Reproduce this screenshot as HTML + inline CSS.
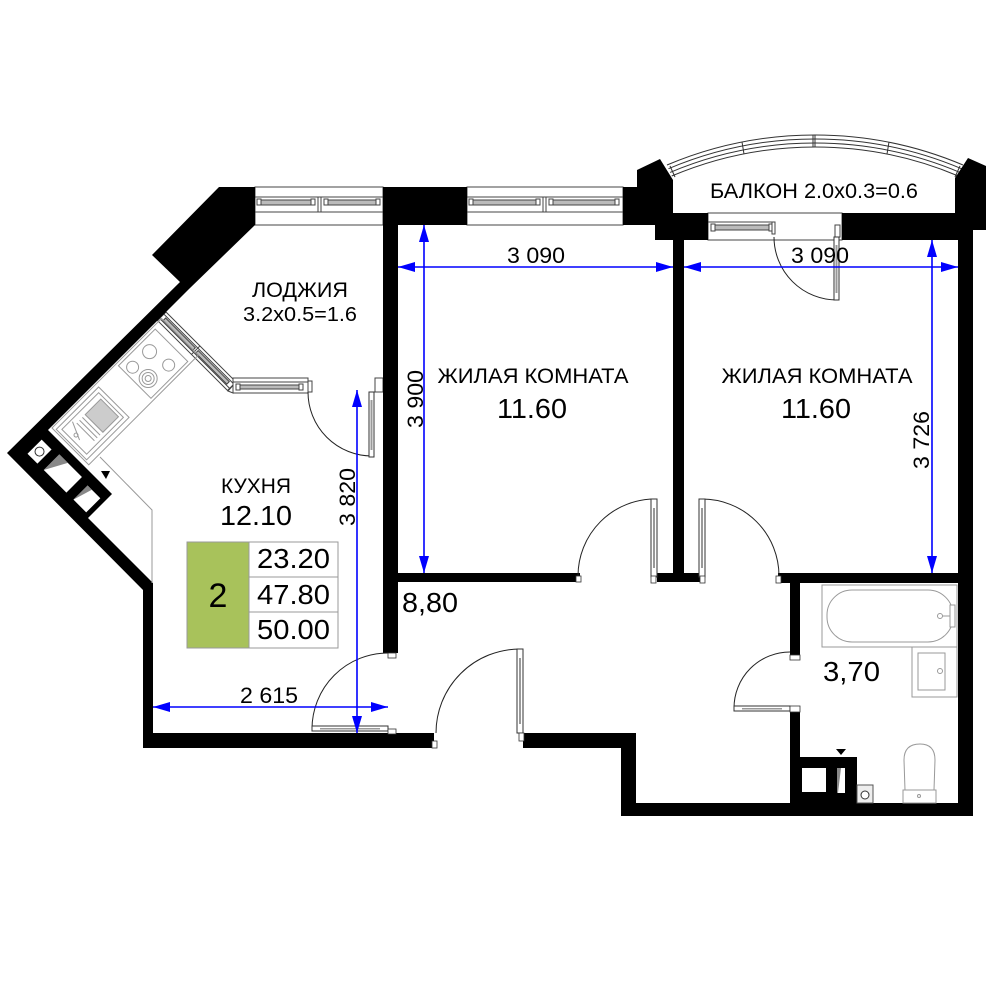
<!DOCTYPE html>
<html><head><meta charset="utf-8">
<style>
html,body{margin:0;padding:0;background:#fff;}
svg{display:block;}
text{font-family:"Liberation Sans", Arial, sans-serif; fill:#000;}
</style></head><body>
<svg width="1000" height="1000" viewBox="0 0 1000 1000" xmlns="http://www.w3.org/2000/svg">
<rect width="1000" height="1000" fill="#fff"/>

<!-- ===== Balcony arc ===== -->
<g fill="none" stroke="#333" stroke-width="1">
  <path d="M667,165 A380,380 0 0 1 963,165"/>
  <path d="M668.5,168.7 A376,376 0 0 1 961.5,168.7"/>
  <path d="M670.1,172.4 A372,372 0 0 1 959.9,172.4"/>
  <path d="M671.7,176 A368,368 0 0 1 958.3,176"/>
  <line x1="813" y1="135" x2="813" y2="147"/>
  <line x1="815" y1="135" x2="815" y2="147"/>
  <line x1="742" y1="142" x2="744" y2="154"/>
  <line x1="889" y1="142" x2="887" y2="154"/>
  <line x1="670" y1="166" x2="675" y2="177"/>
  <line x1="960" y1="166" x2="955" y2="177"/>
</g>

<!-- ===== Windows ===== -->
<g stroke="#444" stroke-width="1" fill="#fff">
  <!-- top-left (loggia) window -->
  <rect x="255" y="187" width="128" height="38"/>
  <line x1="255" y1="197" x2="383" y2="197"/>
  <line x1="255" y1="212" x2="383" y2="212"/>
  <line x1="318" y1="197" x2="318" y2="212"/>
  <line x1="321" y1="197" x2="321" y2="212"/>
  <rect x="259" y="200" width="56" height="5" fill="#bbb"/>
  <rect x="324" y="200" width="56" height="5" fill="#bbb"/>
  <rect x="257" y="199" width="4" height="6"/>
  <rect x="311" y="199" width="4" height="6"/>
  <rect x="324" y="199" width="4" height="6"/>
  <rect x="376" y="199" width="4" height="6"/>
  <!-- middle room window -->
  <rect x="467" y="187" width="156" height="38"/>
  <line x1="467" y1="197" x2="623" y2="197"/>
  <line x1="467" y1="212" x2="623" y2="212"/>
  <line x1="543" y1="197" x2="543" y2="212"/>
  <line x1="546" y1="197" x2="546" y2="212"/>
  <rect x="472" y="200" width="68" height="5" fill="#bbb"/>
  <rect x="549" y="200" width="70" height="5" fill="#bbb"/>
  <rect x="469" y="199" width="4" height="6"/>
  <rect x="536" y="199" width="4" height="6"/>
  <rect x="549" y="199" width="4" height="6"/>
  <rect x="615" y="199" width="4" height="6"/>
  <!-- balcony window -->
  <rect x="708" y="213" width="134" height="27"/>
  <line x1="708" y1="222" x2="772" y2="222"/>
  <rect x="713" y="225" width="58" height="5" fill="#bbb"/>
  <rect x="711" y="224" width="4" height="7"/>
  <rect x="769" y="224" width="4" height="7"/>
  <rect x="772" y="222" width="3" height="12"/>
  <rect x="835" y="225" width="5" height="12"/>
  <!-- loggia diagonal window -->
  <g transform="matrix(0.7071,0.7071,-0.7071,0.7071,166,312)">
    <rect x="0" y="0" width="99" height="12"/>
    <line x1="0" y1="3" x2="99" y2="3"/>
    <line x1="0" y1="9" x2="99" y2="9"/>
    <rect x="4" y="4.5" width="42" height="3.5" fill="#bbb"/>
    <rect x="50" y="4.5" width="44" height="3.5" fill="#bbb"/>
    <line x1="48" y1="0" x2="48" y2="12"/>
  </g>
  <polygon points="236,378 236,382 228,391 233,393 233,378"/>
  <!-- loggia horizontal window -->
  <rect x="233" y="378" width="75" height="15"/>
  <line x1="233" y1="382" x2="308" y2="382"/>
  <rect x="238" y="385" width="64" height="4" fill="#bbb"/>
  <rect x="236" y="384" width="4" height="6"/>
  <rect x="299" y="384" width="4" height="6"/>
  <rect x="308" y="381" width="4" height="11"/>
  <rect x="375" y="378" width="8" height="14"/>
</g>

<!-- ===== Walls ===== -->
<g fill="#000">
  <polygon points="152,255 219,187 255,187 255,225 189,289 48,430 112,494 88,518 153,583 153,733 434,733 434,748 143,748 143,590 7,453 180,282"/>
  <rect x="383" y="187" width="15" height="466"/>
  <rect x="383" y="187" width="84" height="38"/>
  <polygon points="623,187 637,187 637,170 660,159 673,180 673,213 708,213 708,240 655,240 655,225 623,225"/>
  <rect x="673" y="238" width="11" height="344"/>
  <rect x="842" y="213" width="116" height="27"/>
  <polygon points="955,178 968,158 986,166 986,230 958,230 958,213 955,213"/>
  <rect x="958" y="213" width="15" height="603"/>
  <rect x="398" y="573" width="182" height="9"/>
  <rect x="657" y="573" width="43" height="9"/>
  <rect x="778" y="573" width="180" height="10"/>
  <rect x="523" y="733" width="113" height="15"/>
  <rect x="621" y="733" width="15" height="82"/>
  <rect x="621" y="803" width="352" height="13"/>
  <rect x="790" y="575" width="10" height="80"/>
  <rect x="790" y="712" width="10" height="91"/>
  <rect x="800" y="757" width="57" height="46"/>
</g>

<!-- shaft openings (left) -->
<g transform="matrix(0.7071,0.7071,0.7071,-0.7071,7,453)">
  <rect x="15" y="14" width="14" height="20" fill="#fff"/>
  <circle cx="22" cy="24" r="4.5" fill="#fff" stroke="#333" stroke-width="1"/>
  <rect x="38" y="14" width="32" height="22" fill="#fff"/>
  <polygon points="38,14 50,36 38,36" fill="#888"/>
  <rect x="80" y="14" width="18" height="20" fill="#fff"/>
  <polygon points="80,14 86,34 80,34" fill="#888"/>
</g>
<!-- shaft openings (bathroom) -->
<rect x="802" y="768" width="24" height="24" fill="#fff"/>
<rect x="837" y="768" width="8" height="25" fill="#fff"/>
<polygon points="837,768 841,768 838,793 837,793" fill="#888"/>
<rect x="857" y="785" width="16" height="18" fill="#eee" stroke="#555" stroke-width="1"/>
<circle cx="865" cy="795" r="4" fill="#fff" stroke="#333" stroke-width="1"/>
<polygon points="836,749 846,749 841,755" fill="#000"/>
<polygon points="101,471 110,471 106,479" fill="#000"/>

<!-- ===== Kitchen fixtures ===== -->
<g transform="matrix(-0.7071,0.7071,0.7071,0.7071,163,317)" fill="none" stroke="#999" stroke-width="1">
  <rect x="2" y="0" width="155" height="52"/>
  <rect x="14" y="3" width="52" height="46"/>
  <circle cx="34" cy="15" r="7"/>
  <circle cx="57" cy="14" r="6"/>
  <circle cx="30" cy="38" r="6"/>
  <circle cx="54" cy="33" r="9"/>
  <circle cx="54" cy="33" r="6"/>
  <circle cx="54" cy="33" r="3"/>
  <rect x="95" y="4" width="60" height="43"/>
  <rect x="99" y="8" width="52" height="35"/>
  <rect x="102" y="14" width="22" height="25" fill="#ccc"/>
  <line x1="128" y1="14" x2="128" y2="39"/>
  <line x1="132" y1="14" x2="132" y2="39"/>
  <line x1="136" y1="14" x2="136" y2="39"/>
  <line x1="138" y1="10" x2="146" y2="28"/>
  <circle cx="145" cy="22" r="2"/>
</g>
<polyline points="100,457 152,510 152,583" fill="none" stroke="#999" stroke-width="1"/>

<!-- ===== Bathroom fixtures ===== -->
<g fill="#fff" stroke="#999" stroke-width="1">
  <rect x="822" y="585" width="135" height="62"/>
  <rect x="827" y="590" width="126" height="52" rx="25" ry="25"/>
  <circle cx="940" cy="616" r="2.5"/>
  <line x1="942" y1="616" x2="951" y2="616"/>
  <rect x="950" y="605" width="5" height="22"/>
  <rect x="912" y="647" width="45" height="50"/>
  <rect x="918" y="653" width="27" height="37"/>
  <circle cx="940" cy="671" r="2.5"/>
  <path d="M905,790 L904,760 Q904,744 920,744 Q935,744 935,760 L934,790 Z"/>
  <rect x="903" y="790" width="33" height="13"/>
  <circle cx="919" cy="796" r="1.5"/>
</g>

<!-- ===== Doors ===== -->
<g fill="none" stroke="#222" stroke-width="1">
  <path d="M308,392 A64,64 0 0 0 372,456"/>
  <path d="M578,576 A77,77 0 0 1 655,499"/>
  <path d="M702,499 A77,77 0 0 1 779,576"/>
  <path d="M312,729 A76,76 0 0 1 388,653"/>
  <path d="M520,649 A84,84 0 0 0 436,733"/>
  <path d="M734,708 A56,56 0 0 1 790,652"/>
  <path d="M774,237 A63,63 0 0 0 837,300"/>
</g>
<g fill="#fff" stroke="#333" stroke-width="1">
  <rect x="369" y="392" width="5" height="65"/>
  <rect x="651" y="499" width="6" height="78"/>
  <rect x="699" y="499" width="6" height="78"/>
  <rect x="312" y="726" width="76" height="5"/>
  <rect x="517" y="649" width="6" height="84"/>
  <rect x="734" y="706" width="56" height="5"/>
  <rect x="834" y="237" width="5" height="63"/>
</g>
<g fill="#999">
  <rect x="370.5" y="400" width="2" height="50"/>
  <rect x="653" y="508" width="2" height="60"/>
  <rect x="701" y="508" width="2" height="60"/>
  <rect x="320" y="728" width="60" height="1.5"/>
  <rect x="519" y="658" width="2" height="66"/>
  <rect x="742" y="708" width="40" height="1.5"/>
  <rect x="835.5" y="245" width="2" height="48"/>
</g>
<g fill="#fff" stroke="#333" stroke-width="0.8">
  <rect x="388" y="653" width="8" height="5"/>
  <rect x="576" y="576" width="5" height="6"/>
  <rect x="651" y="576" width="5" height="7"/>
  <rect x="700" y="576" width="5" height="7"/>
  <rect x="776" y="576" width="5" height="7"/>
  <rect x="432" y="741" width="5" height="7"/>
  <rect x="519" y="733" width="5" height="8"/>
  <rect x="388" y="729" width="8" height="5"/>
  <rect x="790" y="655" width="10" height="5"/>
  <rect x="790" y="706" width="10" height="6"/>
</g>

<!-- ===== Info table ===== -->
<rect x="187" y="542" width="62" height="106" fill="#a8c25b" stroke="#999" stroke-width="1"/>
<rect x="249" y="542" width="89" height="35" fill="#fff" stroke="#999" stroke-width="1"/>
<rect x="249" y="577" width="89" height="35" fill="#fff" stroke="#999" stroke-width="1"/>
<rect x="249" y="612" width="89" height="36" fill="#fff" stroke="#999" stroke-width="1"/>
<text x="218" y="607" font-size="34" text-anchor="middle">2</text>
<text x="293.5" y="568" font-size="28" text-anchor="middle" textLength="73" lengthAdjust="spacingAndGlyphs">23.20</text>
<text x="293.5" y="604" font-size="28" text-anchor="middle" textLength="73" lengthAdjust="spacingAndGlyphs">47.80</text>
<text x="293.5" y="639" font-size="28" text-anchor="middle" textLength="73" lengthAdjust="spacingAndGlyphs">50.00</text>

<!-- ===== Dimension lines ===== -->
<g stroke="#0000ff" stroke-width="1.6">
  <line x1="398" y1="267" x2="673" y2="267"/>
  <line x1="684" y1="267" x2="958" y2="267"/>
  <line x1="424" y1="225" x2="424" y2="573"/>
  <line x1="932" y1="240" x2="932" y2="573"/>
  <line x1="357" y1="390" x2="357" y2="733"/>
  <line x1="153" y1="707" x2="388" y2="707"/>
</g>
<g fill="#0000ff">
  <polygon points="398,267 415,262 415,272"/>
  <polygon points="673,267 656,262 656,272"/>
  <polygon points="684,267 701,262 701,272"/>
  <polygon points="958,267 941,262 941,272"/>
  <polygon points="424,225 419,242 429,242"/>
  <polygon points="424,573 419,556 429,556"/>
  <polygon points="932,240 927,257 937,257"/>
  <polygon points="932,573 927,556 937,556"/>
  <polygon points="357,390 352,407 362,407"/>
  <polygon points="357,733 352,716 362,716"/>
  <polygon points="153,707 170,702 170,712"/>
  <polygon points="388,707 371,702 371,712"/>
</g>
<text x="536" y="263" font-size="22" text-anchor="middle" textLength="58" lengthAdjust="spacingAndGlyphs">3 090</text>
<text x="820" y="263" font-size="22" text-anchor="middle" textLength="58" lengthAdjust="spacingAndGlyphs">3 090</text>
<text x="269" y="703" font-size="22" text-anchor="middle" textLength="58" lengthAdjust="spacingAndGlyphs">2 615</text>
<text transform="translate(423,399) rotate(-90)" font-size="22" text-anchor="middle" textLength="58" lengthAdjust="spacingAndGlyphs">3 900</text>
<text transform="translate(355,497) rotate(-90)" font-size="22" text-anchor="middle" textLength="58" lengthAdjust="spacingAndGlyphs">3 820</text>
<text transform="translate(929,440) rotate(-90)" font-size="22" text-anchor="middle" textLength="58" lengthAdjust="spacingAndGlyphs">3 726</text>

<!-- ===== Room labels ===== -->
<text x="300" y="297" font-size="21" text-anchor="middle" textLength="96" lengthAdjust="spacingAndGlyphs">ЛОДЖИЯ</text>
<text x="300" y="321" font-size="20" text-anchor="middle" textLength="114" lengthAdjust="spacingAndGlyphs">3.2x0.5=1.6</text>
<text x="256" y="493" font-size="21" text-anchor="middle" textLength="70" lengthAdjust="spacingAndGlyphs">КУХНЯ</text>
<text x="256" y="525" font-size="28" text-anchor="middle" textLength="72" lengthAdjust="spacingAndGlyphs">12.10</text>
<text x="533" y="383" font-size="21" text-anchor="middle" textLength="191" lengthAdjust="spacingAndGlyphs">ЖИЛАЯ КОМНАТА</text>
<text x="532" y="418" font-size="28" text-anchor="middle" textLength="70" lengthAdjust="spacingAndGlyphs">11.60</text>
<text x="817" y="383" font-size="21" text-anchor="middle" textLength="191" lengthAdjust="spacingAndGlyphs">ЖИЛАЯ КОМНАТА</text>
<text x="816" y="418" font-size="28" text-anchor="middle" textLength="70" lengthAdjust="spacingAndGlyphs">11.60</text>
<text x="814" y="198" font-size="21" text-anchor="middle" textLength="208" lengthAdjust="spacingAndGlyphs">БАЛКОН 2.0x0.3=0.6</text>
<text x="402" y="612" font-size="28" textLength="56" lengthAdjust="spacingAndGlyphs">8,80</text>
<text x="823" y="681" font-size="28" textLength="57" lengthAdjust="spacingAndGlyphs">3,70</text>
</svg>
</body></html>
